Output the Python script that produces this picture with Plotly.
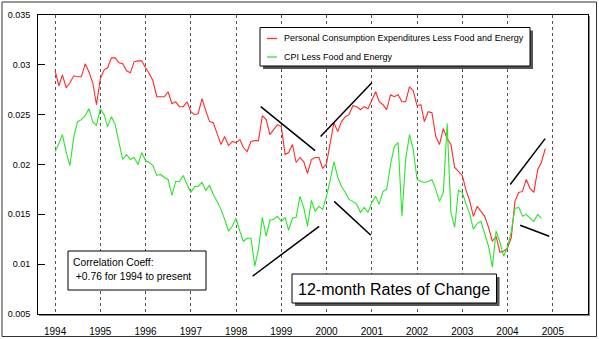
import pandas as pd
import plotly.graph_objects as go

# ---- data (12-month rates of change, monthly from Jan 1994) ----
pce_values = [
    0.0294, 0.0279, 0.0290, 0.0277, 0.0282, 0.0289, 0.0288, 0.0288, 0.0301, 0.0293, 0.0282, 0.0260,  # 1994
    0.0286, 0.0295, 0.0297, 0.0307, 0.0307, 0.0302, 0.0301, 0.0294, 0.0292, 0.0303, 0.0304, 0.0304,  # 1995
    0.0297, 0.0291, 0.0284, 0.0268, 0.0268, 0.0268, 0.0273, 0.0261, 0.0263, 0.0258, 0.0258, 0.0263,  # 1996
    0.0253, 0.0250, 0.0251, 0.0266, 0.0254, 0.0243, 0.0242, 0.0231, 0.0220, 0.0228, 0.0219, 0.0223,  # 1997
    0.0222, 0.0225, 0.0217, 0.0213, 0.0223, 0.0224, 0.0224, 0.0249, 0.0245, 0.0230, 0.0235, 0.0240,  # 1998
    0.0238, 0.0210, 0.0212, 0.0220, 0.0202, 0.0207, 0.0203, 0.0191, 0.0205, 0.0207, 0.0207, 0.0196,  # 1999
    0.0201, 0.0222, 0.0242, 0.0233, 0.0243, 0.0248, 0.0250, 0.0259, 0.0258, 0.0255, 0.0258, 0.0256,  # 2000
    0.0265, 0.0273, 0.0263, 0.0260, 0.0255, 0.0270, 0.0268, 0.0270, 0.0263, 0.0263, 0.0278, 0.0274,  # 2001
    0.0259, 0.0260, 0.0243, 0.0253, 0.0252, 0.0228, 0.0220, 0.0236, 0.0226, 0.0220, 0.0197, 0.0193,  # 2002
    0.0189, 0.0174, 0.0164, 0.0148, 0.0158, 0.0153, 0.0148, 0.0137, 0.0123, 0.0128, 0.0112, 0.0113,  # 2003
    0.0116, 0.0127, 0.0163, 0.0172, 0.0173, 0.0185, 0.0176, 0.0172, 0.0195, 0.0202, 0.0216,          # 2004
]
cpi_values = [
    0.0213, 0.0221, 0.0230, 0.0212, 0.0199, 0.0228, 0.0243, 0.0245, 0.0249, 0.0256, 0.0243, 0.0239,  # 1994
    0.0256, 0.0250, 0.0238, 0.0248, 0.0240, 0.0222, 0.0205, 0.0210, 0.0205, 0.0207, 0.0200, 0.0212,  # 1995
    0.0204, 0.0202, 0.0199, 0.0189, 0.0190, 0.0187, 0.0185, 0.0169, 0.0183, 0.0183, 0.0189, 0.0180,  # 1996
    0.0172, 0.0178, 0.0178, 0.0182, 0.0174, 0.0179, 0.0170, 0.0163, 0.0155, 0.0145, 0.0133, 0.0138,  # 1997
    0.0146, 0.0133, 0.0123, 0.0126, 0.0126, 0.0098, 0.0115, 0.0147, 0.0128, 0.0144, 0.0145, 0.0148,  # 1998
    0.0143, 0.0147, 0.0134, 0.0146, 0.0147, 0.0168, 0.0157, 0.0138, 0.0164, 0.0153, 0.0158, 0.0155,  # 1999
    0.0168, 0.0185, 0.0203, 0.0187, 0.0178, 0.0172, 0.0165, 0.0163, 0.0160, 0.0152, 0.0157, 0.0152,  # 2000
    0.0162, 0.0168, 0.0160, 0.0173, 0.0175, 0.0200, 0.0218, 0.0222, 0.0148, 0.0205, 0.0230, 0.0215,  # 2001
    0.0185, 0.0183, 0.0182, 0.0183, 0.0185, 0.0175, 0.0163, 0.0172, 0.0241, 0.0152, 0.0137, 0.0174,  # 2002
    0.0172, 0.0160, 0.0151, 0.0135, 0.0141, 0.0143, 0.0130, 0.0118, 0.0097, 0.0133, 0.0122, 0.0108,  # 2003
    0.0117, 0.0133, 0.0156, 0.0157, 0.0148, 0.0150, 0.0146, 0.0143, 0.0150, 0.0146,                  # 2004
]
pce_name = "Personal Consumption Expenditures Less Food and Energy"
cpi_name = "CPI Less Food and Energy"

year_ticks = list(range(1994, 2006))
y_tick_values = [0.005, 0.01, 0.015, 0.02, 0.025, 0.03, 0.035]
y_tick_labels = ["0.005", "0.01", "0.015", "0.02", "0.025", "0.03", "0.035"]

# hand-drawn trend lines: (start date, start value, end date, end value)
trend_lines = [
    ("1998-07-19", 0.0258, "1999-10-01", 0.0214),
    ("1999-11-14", 0.0228, "2001-01-01", 0.0282),
    ("1998-05-15", 0.0088, "1999-11-03", 0.0138),
    ("2000-03-03", 0.0163, "2000-12-24", 0.0129),
    ("2004-01-23", 0.0180, "2004-10-31", 0.0226),
    ("2004-04-12", 0.0139, "2004-12-03", 0.0128),
]

title_text = "12-month Rates of Change"
corr_lines = ["Correlation Coeff:", " +0.76 for 1994 to present"]

pce_dates = pd.date_range("1994-01-01", periods=len(pce_values), freq="MS")
cpi_dates = pd.date_range("1994-01-01", periods=len(cpi_values), freq="MS")

RED = "#FF2A2A"
GREEN = "#2AE62A"
FONT = "Liberation Sans, Arial, sans-serif"

W, H = 599, 339
L, R, T, B = 38, 11, 15, 25
PW, PH = W - L - R, H - T - B


def px(x):
    return (x - L) / PW


def py(y):
    return (T + PH - y) / PH


fig = go.Figure()
fig.add_trace(go.Scatter(x=pce_dates, y=pce_values, mode="lines", name=pce_name,
                         line=dict(color=RED, width=1.1), showlegend=False))
fig.add_trace(go.Scatter(x=cpi_dates, y=cpi_values, mode="lines", name=cpi_name,
                         line=dict(color=GREEN, width=1.1), showlegend=False))

shapes = []
for x0, y0, x1, y1 in trend_lines:
    shapes.append(dict(type="line", xref="x", yref="y", x0=x0, y0=y0, x1=x1, y1=y1,
                       line=dict(color="black", width=1.5)))

# outer border
shapes.append(dict(type="rect", xref="paper", yref="paper", x0=px(2), x1=px(596.5),
                   y0=py(336.5), y1=py(2), line=dict(color="#333", width=1), layer="above"))
# plot frame shadow
shapes.append(dict(type="line", xref="paper", yref="paper", x0=px(589.5), x1=px(589.5),
                   y0=py(316), y1=py(16), line=dict(color="#888", width=1)))
shapes.append(dict(type="line", xref="paper", yref="paper", x0=px(39), x1=px(589.5),
                   y0=py(315.5), y1=py(315.5), line=dict(color="#888", width=1)))


def box(x0, y0, x1, y1, shadow=True):
    out = []
    if shadow:
        out.append(dict(type="rect", xref="paper", yref="paper", x0=px(x0 + 3), x1=px(x1 + 3),
                        y0=py(y1 + 3), y1=py(y0 + 3), fillcolor="#555", line=dict(width=0),
                        layer="above"))
    out.append(dict(type="rect", xref="paper", yref="paper", x0=px(x0), x1=px(x1),
                    y0=py(y1), y1=py(y0), fillcolor="white", line=dict(color="black", width=1),
                    layer="above"))
    return out


shapes += box(260, 27.5, 530, 66)
shapes += box(292, 274, 496.5, 303)
shapes += box(68, 251, 206, 290, shadow=False)
shapes.append(dict(type="line", xref="paper", yref="paper", x0=px(267), x1=px(277),
                   y0=py(38.5), y1=py(38.5), line=dict(color=RED, width=1.3), layer="above"))
shapes.append(dict(type="line", xref="paper", yref="paper", x0=px(267), x1=px(277),
                   y0=py(57), y1=py(57), line=dict(color=GREEN, width=1.3), layer="above"))

annotations = [
    dict(text=pce_name, x=px(281.5), y=py(38.5), xanchor="left", yanchor="middle",
         font=dict(size=9, color="black", family=FONT)),
    dict(text=cpi_name, x=px(281.5), y=py(57), xanchor="left", yanchor="middle",
         font=dict(size=9, color="black", family=FONT)),
    dict(text=title_text, x=px(394), y=py(289), xanchor="center", yanchor="middle",
         font=dict(size=16, color="black", family=FONT)),
    dict(text=corr_lines[0], x=px(71), y=py(262.5), xanchor="left", yanchor="middle",
         font=dict(size=10.3, color="black", family=FONT)),
    dict(text=corr_lines[1], x=px(71), y=py(276), xanchor="left", yanchor="middle",
         font=dict(size=10.3, color="black", family=FONT)),
]
for a in annotations:
    a.update(xref="paper", yref="paper", showarrow=False)

fig.update_layout(
    width=W, height=H,
    margin=dict(l=L, r=R, t=T, b=B, pad=0, autoexpand=False),
    paper_bgcolor="white", plot_bgcolor="white",
    font=dict(family=FONT, color="black"),
    shapes=shapes, annotations=annotations,
    showlegend=False,
    xaxis=dict(
        type="date", automargin=False,
        range=["1993-08-16", "2005-10-12"],
        tickvals=[f"{yr}-01-01" for yr in year_ticks],
        ticktext=[str(yr) for yr in year_ticks],
        ticks="", showgrid=True, gridcolor="#555", gridwidth=1, griddash="dot",
        showline=True, mirror=True, linecolor="black", linewidth=1,
        zeroline=False, tickfont=dict(size=10, color="black"), ticklabelstandoff=8,
    ),
    yaxis=dict(
        automargin=False,
        range=[0.005, 0.035],
        tickvals=y_tick_values, ticktext=y_tick_labels,
        ticks="inside", ticklen=7, tickwidth=1, tickcolor="black",
        showgrid=False, zeroline=False,
        showline=True, mirror=True, linecolor="black", linewidth=1,
        tickfont=dict(size=9, color="black"), ticklabelstandoff=5,
    ),
)

fig.write_html("out.html")
